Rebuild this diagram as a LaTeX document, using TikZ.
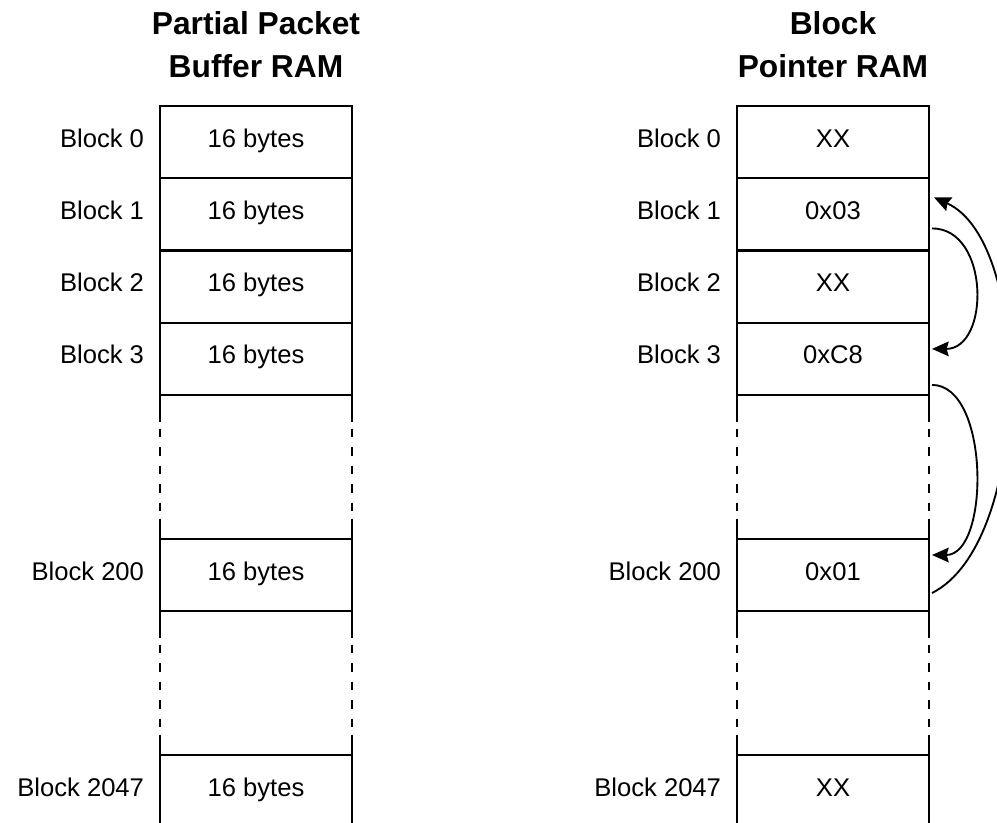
\documentclass[tikz,border=0pt]{standalone}
\usepackage{fontspec}
\setmainfont{Liberation Sans}
\usetikzlibrary{positioning,calc,arrows.meta}
\tikzset{
  cell/.style={draw, line width=1.6pt, minimum width=144pt, minimum height=54.2pt,
    inner sep=0pt, outer sep=0pt, text height=13.5pt, text depth=6pt,
    font=\fontsize{19.2pt}{23pt}\selectfont},
  lab/.style={inner sep=0pt, outer sep=0pt, text height=13.5pt, text depth=6pt,
    font=\fontsize{19.2pt}{23pt}\selectfont},
  ttl/.style={inner sep=0pt, outer sep=0pt, anchor=base,
    font=\fontsize{23.8pt}{30pt}\selectfont\bfseries},
  gapline/.style={line width=1.6pt,
    dash pattern=on 20.25pt off 4.9pt on 6.4pt off 7.5pt on 6.4pt off 7.5pt on 6.4pt off 7.5pt on 6.4pt off 7.5pt on 6.4pt off 5.6pt on 30pt},
  link/.style={line width=1.4pt, -{Stealth[length=12.5pt,width=11pt,inset=1.5pt]}}
}
\begin{document}
\begin{tikzpicture}[x=0.75pt,y=-0.75pt]
\useasboundingbox[fill=white] (0,0) rectangle (997,822);

% titles
\node[ttl] (tL1) at (256,34) {Partial Packet};
\node[ttl] (tL2) at (256,77) {Buffer RAM};
\node[ttl] (tR1) at (833,34) {Block};
\node[ttl] (tR2) at (833,77) {Pointer RAM};

% left column
\node[cell] (L0) at (256,142.1) {16 bytes};
\node[cell] (L1) at (256,214.4) {16 bytes};
\node[cell] (L2) at (256,286.6) {16 bytes};
\node[cell] (L3) at (256,358.9) {16 bytes};
\node[cell] (L200) at (256,575) {16 bytes};
\node[cell] (L2047) at (256,791) {16 bytes};

% right column
\node[cell] (R0) at (833,142.1) {XX};
\node[cell] (R1) at (833,214.4) {0x03};
\node[cell] (R2) at (833,286.6) {XX};
\node[cell] (R3) at (833,358.9) {0xC8};
\node[cell] (R200) at (833,575) {0x01};
\node[cell] (R2047) at (833,791) {XX};

% labels
\foreach \n/\t in {0/Block 0,1/Block 1,2/Block 2,3/Block 3,200/Block 200,2047/Block 2047}{
  \node[lab, left=12pt of L\n] (lL\n) {\t};
  \node[lab, left=12pt of R\n] (lR\n) {\t};
}

% dashed gaps
\draw[gapline] (L3.south west) -- (L200.north west);
\draw[gapline] (L3.south east) -- (L200.north east);
\draw[gapline] (L200.south west) -- (L2047.north west);
\draw[gapline] (L200.south east) -- (L2047.north east);
\draw[gapline] (R3.south west) -- (R200.north west);
\draw[gapline] (R3.south east) -- (R200.north east);
\draw[gapline] (R200.south west) -- (R2047.north west);
\draw[gapline] (R200.south east) -- (R2047.north east);

% pointer links
\coordinate (s1) at ($(R1.east)+(3,14)$);
\coordinate (e1) at ($(R3.east)+(3,-10)$);
\coordinate (s2) at ($(R3.east)+(3,26)$);
\coordinate (e2) at ($(R200.east)+(3,-20)$);
\coordinate (s3) at ($(R200.east)+(3,18)$);
\coordinate (e3) at ($(R1.east)+(5,-17)$);
\draw[link] (s1) .. controls +(58,0) and +(58,0) .. (e1);
\draw[link] (s2) .. controls +(58,0) and +(58,0) .. (e2);
\draw[link] (s3) .. controls +(100,-50) and +(100,45) .. (e3);
\end{tikzpicture}
\end{document}
